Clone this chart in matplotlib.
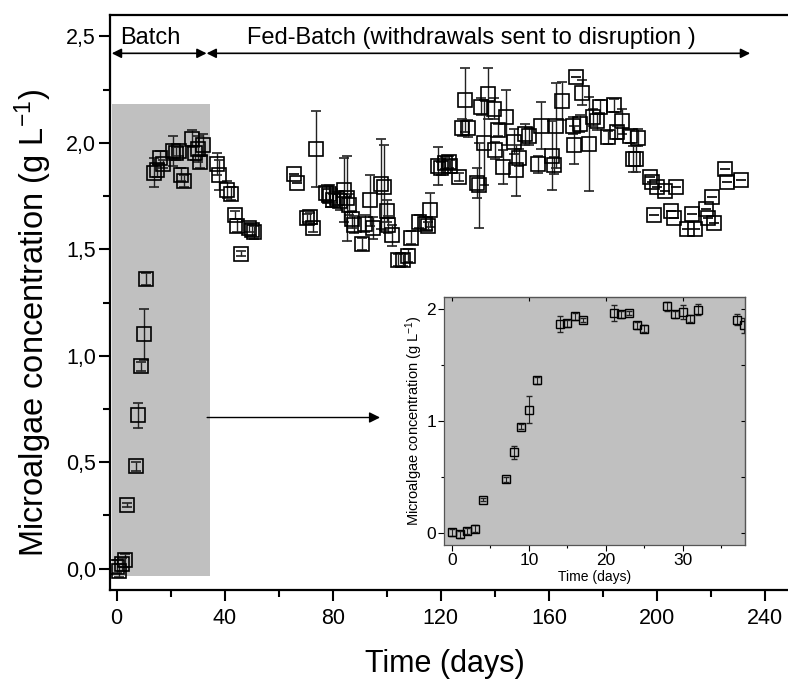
import matplotlib
matplotlib.use("Agg")
import matplotlib.pyplot as plt
from matplotlib.ticker import MultipleLocator, FuncFormatter
from matplotlib.patches import Rectangle

plt.rcParams['font.family'] = ['Liberation Sans', 'DejaVu Sans']
plt.rcParams['mathtext.fontset'] = 'custom'
plt.rcParams['mathtext.rm'] = 'Liberation Sans'
plt.rcParams['mathtext.it'] = 'Liberation Sans'
plt.rcParams['mathtext.default'] = 'regular'

# ---- Batch phase data (days 0-38) ----
batch_days = [0, 1, 2, 3, 4, 7, 8, 9, 10, 11, 14, 15, 16, 17, 21, 22, 23, 24, 25,
              28, 29, 30, 31, 32, 37, 38]
batch_vals = [0.01, -0.01, 0.02, 0.04, 0.30, 0.48, 0.72, 0.95, 1.10, 1.36, 1.86, 1.87,
              1.93, 1.90, 1.96, 1.95, 1.96, 1.85, 1.82, 2.02, 1.95, 1.97, 1.91, 1.99,
              1.90, 1.85]
batch_err = [0.03, 0.03, 0.03, 0.03, 0.01, 0.02, 0.06, 0.02, 0.12, 0.03, 0.07, 0.03,
             0.03, 0.02, 0.07, 0.03, 0.02, 0.03, 0.03, 0.04, 0.03, 0.06, 0.03, 0.05,
             0.05, 0.07]

# ---- Fed-batch phase data ----
fed_days = [41, 42.5, 43.7, 44.6, 46, 49, 50, 51,
            65.8, 66.7, 70.4, 71.5, 72.6, 73.9,
            77.6, 78.5, 79, 80, 81.5, 82.7, 84, 85.4, 86, 87, 88, 91, 92, 93.6, 95,
            98, 99, 100, 100.6, 102, 104, 106, 107.7, 108.8, 112, 114, 115.4, 116,
            118.8, 119.9, 121.6, 123, 123.5, 126.6, 128, 129, 130, 133.4, 134, 135,
            136, 137.3, 139.5, 140, 141, 143, 144, 147, 148, 149, 151, 152.7, 156,
            157, 161, 161.9, 162.7, 165, 168.8, 169.3, 170, 171.4, 172.3, 175, 176.5,
            177.8, 178.8, 181.9, 184.2, 185.3, 187, 190, 191, 192.3, 193,
            197.5, 198, 199, 200, 203, 205.2, 206.2, 207.2, 211.1, 213, 214.1, 218.3,
            218.8, 220.2, 221.2, 225, 226, 231]
fed_vals = [1.78, 1.76, 1.66, 1.61, 1.48, 1.60, 1.59, 1.58,
            1.855, 1.81, 1.646, 1.65, 1.60, 1.97,
            1.764, 1.76, 1.75, 1.73, 1.74, 1.725, 1.78, 1.74, 1.71, 1.64, 1.615, 1.525,
            1.62, 1.73, 1.60,
            1.806, 1.79, 1.68, 1.615, 1.566, 1.45, 1.45, 1.47, 1.555, 1.63, 1.62, 1.61,
            1.685,
            1.89, 1.88, 1.905, 1.91, 1.89, 1.84, 2.07, 2.20, 2.067, 1.81, 1.80, 2.17,
            2.00, 2.23, 2.16, 1.965, 2.06, 1.885, 2.12, 2.005, 1.87, 1.93, 2.04, 2.03,
            1.90, 2.08, 1.94, 1.895, 2.08, 2.195, 2.08, 1.99, 2.31, 2.09, 2.235, 1.995,
            2.12, 2.10, 2.17, 2.025, 2.176, 2.05, 2.10, 2.03, 1.925, 1.925, 2.024,
            1.84, 1.815, 1.66, 1.79, 1.775, 1.68, 1.645, 1.79, 1.595, 1.665, 1.595,
            1.69, 1.645, 1.745, 1.625, 1.877, 1.815, 1.827]
fed_err = [0.04, 0.03, 0.02, 0.03, 0.01, 0.02, 0.03, 0.03,
           0.0, 0.0, 0.02, 0.02, 0.02, 0.18,
           0.04, 0.04, 0.05, 0.03, 0.03, 0.04, 0.15, 0.20, 0.05, 0.04, 0.04, 0.03,
           0.04, 0.12, 0.05,
           0.21, 0.20, 0.05, 0.04, 0.05, 0.03, 0.03, 0.03, 0.03, 0.03, 0.03, 0.02,
           0.08,
           0.09, 0.03, 0.03, 0.03, 0.03, 0.02, 0.04, 0.15, 0.04, 0.07, 0.20, 0.04,
           0.20, 0.12, 0.05, 0.04, 0.03, 0.08, 0.13, 0.06, 0.12, 0.04, 0.05, 0.04,
           0.04, 0.11, 0.16, 0.04, 0.20, 0.09, 0.04, 0.09, 0.0, 0.04, 0.06, 0.22,
           0.04, 0.04, 0.03, 0.03, 0.03, 0.03, 0.06, 0.03, 0.06, 0.06, 0.04,
           0, 0, 0, 0, 0, 0, 0, 0, 0, 0, 0, 0, 0, 0, 0, 0, 0, 0]

main_xticks = [0, 40, 80, 120, 160, 200, 240]
main_yticks = [0.0, 0.5, 1.0, 1.5, 2.0, 2.5]
inset_xticks = [0, 10, 20, 30]
inset_yticks = [0, 1, 2]

fig = plt.figure(figsize=(7.88, 6.81), dpi=100)
ax = fig.add_axes([0.1396, 0.1336, 0.8604, 0.8444])

ax.add_patch(Rectangle((-1.6, -0.035), 36.2, 2.215, facecolor='#c0c0c0',
                       edgecolor='none', zorder=0))

all_days = batch_days + fed_days
all_vals = batch_vals + fed_vals
all_err = batch_err + fed_err
ax.errorbar(all_days, all_vals, yerr=all_err, fmt='s', ms=10.5, mfc='none',
            mec='black', mew=1.2, ecolor='#222222', elinewidth=1.0, capsize=3.5,
            capthick=1.0, zorder=3)

ax.set_xlim(-2.45, 248.5)
ax.set_ylim(-0.1, 2.6)
ax.set_xticks(main_xticks)
ax.set_yticks(main_yticks)
ax.xaxis.set_minor_locator(MultipleLocator(20))
ax.yaxis.set_minor_locator(MultipleLocator(0.25))
ax.yaxis.set_major_formatter(FuncFormatter(lambda v, p: f"{v:.1f}".replace('.', ',')))
ax.tick_params(axis='both', which='major', direction='out', length=8, width=1.5,
               labelsize=15.5)
ax.tick_params(axis='x', which='major', pad=5)
ax.tick_params(axis='y', which='major', pad=2)
ax.tick_params(axis='both', which='minor', direction='out', length=5, width=1.5)
ax.spines['right'].set_visible(False)
for s in ['left', 'bottom', 'top']:
    ax.spines[s].set_linewidth(1.6)

ax.set_xlabel('Time (days)', fontsize=22)
ax.xaxis.set_label_coords(0.494, -0.103)
ax.set_ylabel('Microalgae concentration (g L$^{-1}$)', fontsize=23.5)
ax.yaxis.set_label_coords(-0.082, 0.465)

# phase annotations
arrow_kw = dict(arrowstyle='<|-|>', color='black', lw=1.2, mutation_scale=14,
                shrinkA=0, shrinkB=0)
ax.annotate('', xy=(-1.8, 2.42), xytext=(33.3, 2.42), arrowprops=arrow_kw)
ax.annotate('', xy=(33.3, 2.42), xytext=(234.5, 2.42), arrowprops=arrow_kw)
ax.text(12.5, 2.49, 'Batch', fontsize=17, ha='center', va='center')
ax.text(131.4, 2.49, 'Fed-Batch (withdrawals sent to disruption )', fontsize=17,
        ha='center', va='center')

# arrow pointing to inset
ax.annotate('', xy=(97.5, 0.71), xytext=(33.5, 0.71),
            arrowprops=dict(arrowstyle='-|>', color='black', lw=1.0,
                            mutation_scale=16, shrinkA=0, shrinkB=0))

# ---- inset ----
axi = fig.add_axes([0.5638, 0.1997, 0.3817, 0.3642])
axi.set_facecolor('#c0c0c0')
axi.errorbar(batch_days, batch_vals, yerr=batch_err, fmt='s', ms=6, mfc='none',
             mec='black', mew=1.0, ecolor='#222222', elinewidth=0.8, capsize=2,
             capthick=0.8)
axi.set_xlim(-1.0, 38.1)
axi.set_ylim(-0.104, 2.103)
axi.set_xticks(inset_xticks)
axi.set_yticks(inset_yticks)
axi.xaxis.set_minor_locator(MultipleLocator(5))
axi.yaxis.set_minor_locator(MultipleLocator(0.5))
axi.tick_params(axis='both', which='major', direction='out', length=4, width=0.8,
                labelsize=12.5, pad=2)
axi.tick_params(axis='both', which='minor', direction='out', length=2.5, width=0.8)
axi.tick_params(axis='both', which='both', top=False, right=False)
axi.secondary_xaxis('top').tick_params(direction='in', length=3, width=0.8,
                                        labeltop=False)
sy = axi.secondary_yaxis('right')
sy.tick_params(direction='in', length=3, width=0.8, labelright=False)
sy.yaxis.set_minor_locator(MultipleLocator(0.5))
sy.tick_params(which='minor', direction='in', length=2, width=0.8)
for s in axi.spines.values():
    s.set_linewidth(0.9)
    s.set_color('#555555')
axi.set_xlabel('Time (days)', fontsize=10, labelpad=1)
axi.set_ylabel('Microalgae concentration (g L$^{-1}$)', fontsize=10.5, labelpad=1)

fig.savefig('out.png', dpi=100)
